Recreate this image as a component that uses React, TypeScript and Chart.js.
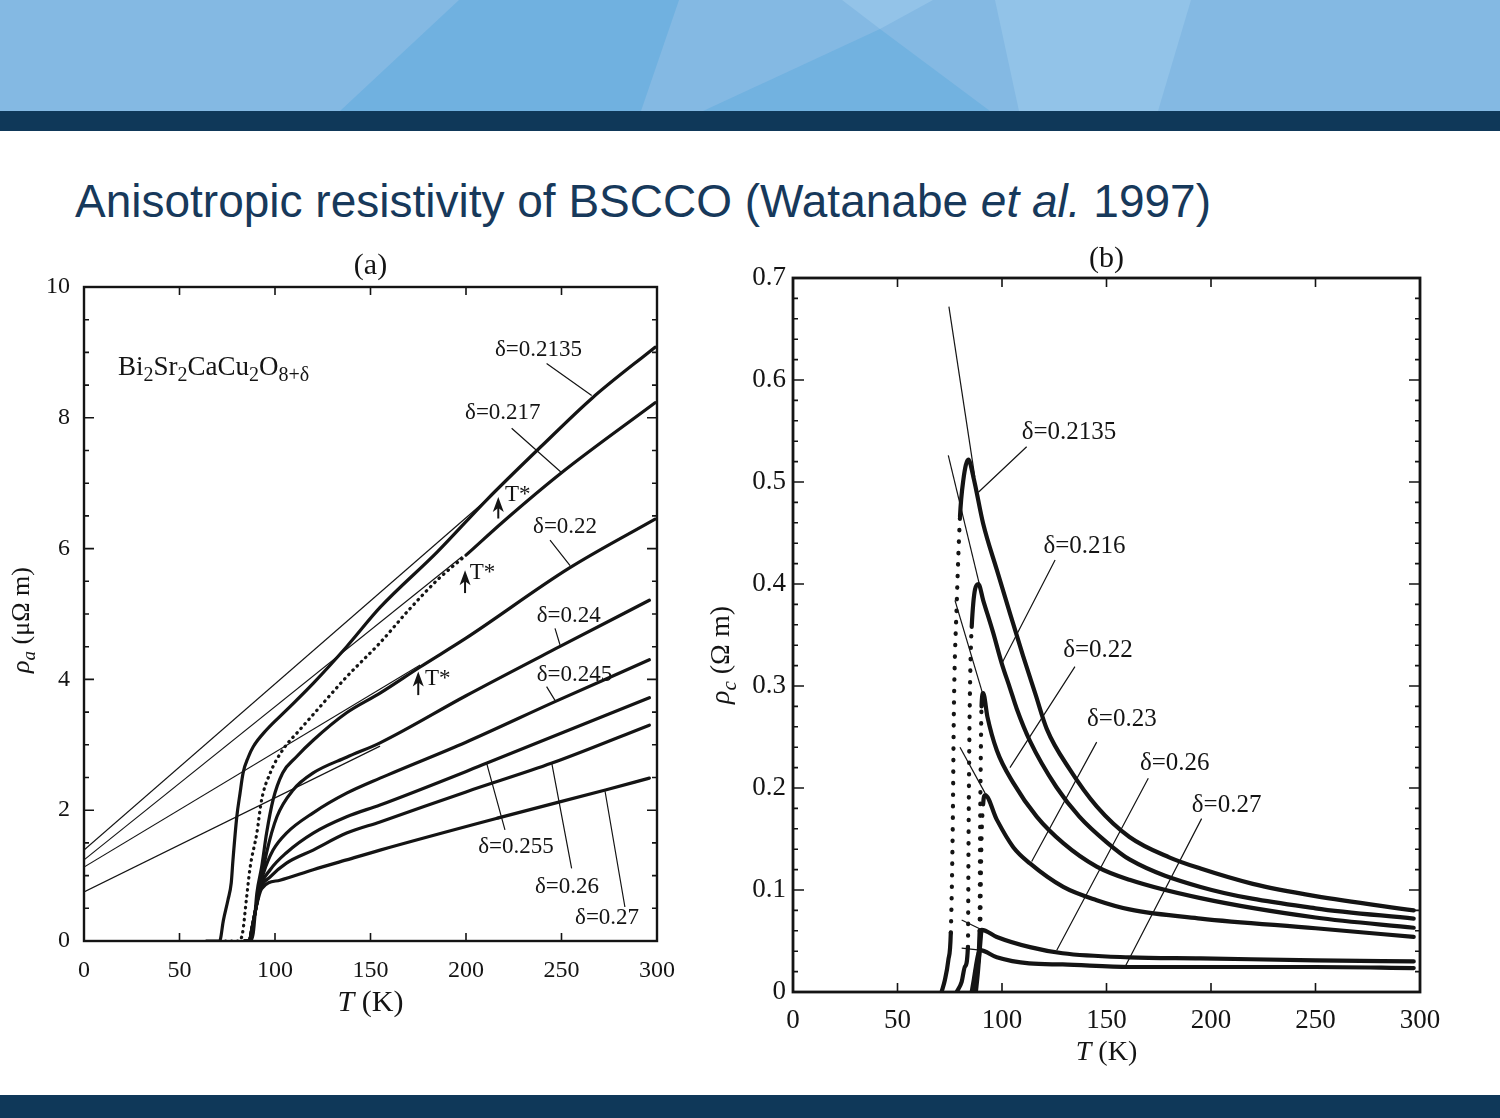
import React, { useEffect, useRef } from "react";
import { Chart, registerables } from "chart.js";

Chart.register(...registerables);

const SERIF = '"Liberation Serif", "Times New Roman", "DejaVu Serif", serif';
const INK = "#141414";

// ---------------- Panel (a): rho_a (μΩ m) vs T (K) ----------------
const T_A_2135 = [64, 71, 73, 75.4, 77.1, 78, 80, 81.7, 83.3, 86, 88.6, 95.6, 106, 120, 137.5, 155, 185, 211, 240, 266, 299];
const R_A_2135 = [0, 0, 0.32, 0.63, 0.89, 1.24, 1.9, 2.26, 2.57, 2.81, 2.97, 3.23, 3.53, 3.94, 4.5, 5.1, 5.95, 6.75, 7.58, 8.3, 9.08];
const T_A_217 = [74, 81, 83, 85, 87, 90.5, 93, 97.5, 104, 113, 123.5, 137.5, 155, 170, 185, 200, 219, 250, 299];
const R_A_217 = [0, 0, 0.12, 0.63, 1.13, 1.65, 2.16, 2.57, 2.92, 3.23, 3.58, 4.04, 4.56, 5.06, 5.52, 5.9, 6.4, 7.16, 8.23];
const T_A_22 = [84, 86.5, 88.6, 90.5, 93, 95.6, 99, 104, 111, 120, 137.5, 155, 176, 200, 254, 299];
const R_A_22 = [0, 0, 0.12, 0.73, 1.13, 1.65, 2.16, 2.57, 2.81, 3.07, 3.49, 3.79, 4.19, 4.63, 5.7, 6.45];
const T_A_24 = [84, 86.5, 88, 90, 92, 95.6, 101, 109.5, 120, 137.5, 155, 200, 249, 296];
const R_A_24 = [0, 0, 0.2, 0.5, 0.8, 1.35, 1.9, 2.31, 2.57, 2.81, 3.03, 3.75, 4.5, 5.21];
const T_A_245 = [84, 86.5, 88, 90, 92, 94, 99, 106, 120, 137.5, 155, 200, 246.6, 296];
const R_A_245 = [0, 0, 0.2, 0.5, 0.82, 1.04, 1.39, 1.65, 1.96, 2.26, 2.49, 3.04, 3.66, 4.3];
const T_A_255 = [84, 86.5, 88, 90, 92, 97.5, 106, 120, 137.5, 155, 211, 296];
const R_A_255 = [0, 0, 0.2, 0.5, 0.8, 1.09, 1.35, 1.65, 1.9, 2.08, 2.72, 3.72];
const T_A_26 = [84, 86.5, 88, 90, 92, 97.5, 106, 120, 137.5, 155, 200, 245, 296];
const R_A_26 = [0, 0, 0.2, 0.5, 0.78, 0.98, 1.19, 1.39, 1.65, 1.82, 2.28, 2.72, 3.3];
const T_A_27 = [84, 86.5, 88, 90, 93, 102.6, 120, 137.5, 155, 218, 273, 296];
const R_A_27 = [0, 0, 0.2, 0.5, 0.8, 0.93, 1.09, 1.24, 1.39, 1.89, 2.31, 2.49];
// linear high-temperature fits (thin lines)
const T_FIT_A1 = [0, 211];
const R_FIT_A1 = [1.39, 6.75];
const T_FIT_A2 = [0, 198];
const R_FIT_A2 = [1.24, 5.88];
const T_FIT_A3 = [0, 176];
const R_FIT_A3 = [1.13, 4.22];
const T_FIT_A4 = [0, 155];
const R_FIT_A4 = [0.75, 2.98];

// ---------------- Panel (b): rho_c (Ω m) vs T (K) ----------------
const T_B_2135 = [71.1, 72.7, 74.3, 75.5, 76.4, 77, 78.3, 79.9, 81.5, 83.9, 86.3, 91, 97.5, 104, 110, 116, 121.4, 132.5, 145.3, 161, 180, 195, 220, 250, 297];
const R_B_2135 = [0, 0.012, 0.031, 0.058, 0.156, 0.28, 0.378, 0.466, 0.502, 0.522, 0.505, 0.459, 0.414, 0.37, 0.33, 0.292, 0.258, 0.218, 0.182, 0.152, 0.132, 0.121, 0.106, 0.094, 0.08];
const T_B_216 = [78.3, 80.7, 82.3, 83.7, 84.0, 84.5, 85.5, 88.7, 91, 95.8, 99.9, 103.8, 107, 113.4, 126, 137, 150, 161, 195, 250, 297];
const R_B_216 = [0, 0.01, 0.025, 0.044, 0.15, 0.27, 0.358, 0.4, 0.384, 0.352, 0.322, 0.298, 0.278, 0.246, 0.201, 0.172, 0.147, 0.13, 0.103, 0.082, 0.072];
const T_B_22 = [86.3, 87.9, 89.3, 89.5, 89.8, 90.2, 91, 93, 97.5, 105.4, 116.6, 129.3, 145.3, 161, 195, 250, 297];
const R_B_22 = [0, 0.025, 0.06, 0.15, 0.22, 0.28, 0.293, 0.27, 0.237, 0.205, 0.172, 0.146, 0.123, 0.11, 0.092, 0.073, 0.063];
const T_B_23 = [86.8, 88.2, 89.6, 89.8, 90.2, 91.0, 91.9, 97.5, 105.4, 113.4, 129.3, 145.3, 161, 195, 250, 297];
const R_B_23 = [0, 0.025, 0.06, 0.1, 0.15, 0.185, 0.193, 0.169, 0.142, 0.126, 0.103, 0.09, 0.081, 0.072, 0.0625, 0.054];
const T_B_26 = [87.5, 88.5, 89.5, 90.3, 97.5, 113.4, 129, 161, 195, 250, 297];
const R_B_26 = [0, 0.02, 0.045, 0.061, 0.054, 0.044, 0.038, 0.034, 0.033, 0.031, 0.03];
const T_B_27 = [85.5, 86.5, 87.5, 88.5, 89.5, 97.5, 113, 129, 161, 195, 250, 297];
const R_B_27 = [0, 0.012, 0.025, 0.036, 0.041, 0.034, 0.028, 0.027, 0.0245, 0.0245, 0.0245, 0.0235];
// normal-state extrapolations (thin lines)
const T_FIT_B1 = [74.6, 87];
const R_FIT_B1 = [0.672, 0.505];
const T_FIT_B2 = [74.3, 89.5];
const R_FIT_B2 = [0.526, 0.397];
const T_FIT_B3 = [77.5, 91.1];
const R_FIT_B3 = [0.384, 0.29];
const T_FIT_B4 = [79.9, 91.9];
const R_FIT_B4 = [0.24, 0.195];
const T_FIT_B5 = [80.7, 90.3];
const R_FIT_B5 = [0.0706, 0.061];
const T_FIT_B6 = [80.7, 89.5];
const R_FIT_B6 = [0.043, 0.041];

// ---------------- labels ----------------
const LABELS_A = [
  { text: "δ=0.2135", at: [215.2, 9.04], from: [242.2, 8.83], to: [265.8, 8.34] },
  { text: "δ=0.217", at: [199.5, 8.07], from: [223.9, 7.84], to: [250.1, 7.16] },
  { text: "δ=0.22", at: [235.1, 6.33], from: [244, 6.13], to: [254.5, 5.74] },
  { text: "δ=0.24", at: [237, 4.97], from: [246.6, 4.78], to: [249.2, 4.53] },
  { text: "δ=0.245", at: [237, 4.07], from: [242.2, 3.89], to: [246.6, 3.68] },
  { text: "δ=0.255", at: [206.4, 1.44], from: [220.4, 1.7], to: [210.8, 2.72] },
  { text: "δ=0.26", at: [236.1, 0.83], from: [255.3, 1.11], to: [244.9, 2.72] },
  { text: "δ=0.27", at: [257.1, 0.35], from: [283.2, 0.52], to: [272.8, 2.29] },
];
const TSTAR_A = [
  { x: 216.9, base: 6.46, tip: 6.79, label: [220.4, 6.82] },
  { x: 199.5, base: 5.32, tip: 5.67, label: [202, 5.63] },
  { x: 175, base: 3.76, tip: 4.12, label: [178.5, 4.01] },
];
const LABELS_B = [
  { text: "δ=0.2135", at: [109.4, 0.5485], from: [111.8, 0.5346], to: [88.7, 0.49] },
  { text: "δ=0.216", at: [119.8, 0.437], from: [125.4, 0.4235], to: [99.9, 0.322] },
  { text: "δ=0.22", at: [129.3, 0.335], from: [134.9, 0.319], to: [103.8, 0.22] },
  { text: "δ=0.23", at: [140.7, 0.267], from: [145.3, 0.245], to: [114.2, 0.128] },
  { text: "δ=0.26", at: [166, 0.2245], from: [170, 0.2095], to: [126.2, 0.041] },
  { text: "δ=0.27", at: [190.8, 0.183], from: [195.5, 0.17], to: [158.9, 0.0248] },
];

type Part = { t: string; it?: boolean; sub?: boolean };
const FORMULA: Part[] = [
  { t: "Bi" }, { t: "2", sub: true }, { t: "Sr" }, { t: "2", sub: true }, { t: "CaCu" },
  { t: "2", sub: true }, { t: "O" }, { t: "8+δ", sub: true },
];

function pts(T: number[], R: number[]) {
  return T.map((t, i) => ({ x: t, y: R[i] }));
}

function fontOf(p: Part, size: number) {
  const s = p.sub ? Math.round(size * 0.74) : size;
  return `${p.it ? "italic " : ""}${s}px ${SERIF}`;
}

function drawParts(ctx: CanvasRenderingContext2D, parts: Part[], x: number, y: number, size: number, align: "left" | "center") {
  ctx.textBaseline = "middle";
  ctx.textAlign = "left";
  const widths = parts.map((p) => {
    ctx.font = fontOf(p, size);
    return ctx.measureText(p.t).width;
  });
  const total = widths.reduce((a, b) => a + b, 0);
  let cx = align === "center" ? x - total / 2 : x;
  parts.forEach((p, i) => {
    ctx.font = fontOf(p, size);
    ctx.fillText(p.t, cx, y + (p.sub ? size * 0.3 : 0));
    cx += widths[i];
  });
}

type PanelCfg = {
  yMax: number;
  yStep: number;
  isMajorY: (v: number) => boolean;
  yLabel: (v: number) => string;
  tickSize: number;
  xPad: number;
  yPad: number;
  yW: number;
  xH: number;
  padTop: number;
  padRight: number;
  frameW: number;
  majorLen: number;
  minorLen: number;
  xTickLen: number;
  panel: string;
  panelDy: number;
  panelSize: number;
  xTitle: Part[];
  xTitleDy: number;
  xTitleSize: number;
  yTitle: Part[];
  yTitleDx: number;
  yTitleDy: number;
  yTitleSize: number;
  labelSize: number;
  labels: { text: string; at: number[]; from: number[]; to: number[] }[];
  tstars?: { x: number; base: number; tip: number; label: number[] }[];
  formula?: { parts: Part[]; at: number[]; size: number };
  datasets: any[];
};

function annotPlugin(cfg: PanelCfg) {
  return {
    id: "annot",
    afterDatasetsDraw(chart: any) {
      const ctx: CanvasRenderingContext2D = chart.ctx;
      const a = chart.chartArea;
      const xs = chart.scales.x;
      const ys = chart.scales.y;
      const X = (v: number) => xs.getPixelForValue(v);
      const Y = (v: number) => ys.getPixelForValue(v);
      ctx.save();
      ctx.strokeStyle = INK;
      ctx.fillStyle = INK;
      // frame
      ctx.lineWidth = cfg.frameW;
      ctx.strokeRect(a.left, a.top, a.right - a.left, a.bottom - a.top);
      // inward ticks on all four sides
      ctx.lineWidth = 1.6;
      ctx.beginPath();
      ys.ticks.forEach((t: any) => {
        const p = Y(t.value);
        const L = cfg.isMajorY(t.value) ? cfg.majorLen : cfg.minorLen;
        ctx.moveTo(a.left, p);
        ctx.lineTo(a.left + L, p);
        ctx.moveTo(a.right, p);
        ctx.lineTo(a.right - L, p);
      });
      xs.ticks.forEach((t: any) => {
        const p = X(t.value);
        ctx.moveTo(p, a.bottom);
        ctx.lineTo(p, a.bottom - cfg.xTickLen);
        ctx.moveTo(p, a.top);
        ctx.lineTo(p, a.top + cfg.xTickLen);
      });
      ctx.stroke();
      // leader lines
      ctx.lineWidth = 1.2;
      ctx.beginPath();
      cfg.labels.forEach((l) => {
        ctx.moveTo(X(l.from[0]), Y(l.from[1]));
        ctx.lineTo(X(l.to[0]), Y(l.to[1]));
      });
      ctx.stroke();
      // labels
      ctx.font = `${cfg.labelSize}px ${SERIF}`;
      ctx.textAlign = "left";
      ctx.textBaseline = "middle";
      cfg.labels.forEach((l) => ctx.fillText(l.text, X(l.at[0]), Y(l.at[1])));
      // T* arrows
      (cfg.tstars || []).forEach((s) => {
        const x = X(s.x);
        const yb = Y(s.base);
        const yt = Y(s.tip);
        ctx.lineWidth = 2;
        ctx.beginPath();
        ctx.moveTo(x, yb);
        ctx.lineTo(x, yt + 8);
        ctx.stroke();
        ctx.beginPath();
        ctx.moveTo(x, yt);
        ctx.lineTo(x - 5.5, yt + 15);
        ctx.lineTo(x, yt + 11);
        ctx.lineTo(x + 5.5, yt + 15);
        ctx.closePath();
        ctx.fill();
        ctx.font = `23px ${SERIF}`;
        ctx.textAlign = "left";
        ctx.textBaseline = "middle";
        ctx.fillText("T*", X(s.label[0]), Y(s.label[1]));
      });
      if (cfg.formula) {
        drawParts(ctx, cfg.formula.parts, X(cfg.formula.at[0]), Y(cfg.formula.at[1]), cfg.formula.size, "left");
      }
      // panel title, axis titles
      ctx.font = `${cfg.panelSize}px ${SERIF}`;
      ctx.textAlign = "center";
      ctx.textBaseline = "middle";
      ctx.fillText(cfg.panel, (a.left + a.right) / 2, a.top + cfg.panelDy);
      drawParts(ctx, cfg.xTitle, (a.left + a.right) / 2, a.bottom + cfg.xTitleDy, cfg.xTitleSize, "center");
      ctx.save();
      ctx.translate(a.left + cfg.yTitleDx, (a.top + a.bottom) / 2 + cfg.yTitleDy);
      ctx.rotate(-Math.PI / 2);
      drawParts(ctx, cfg.yTitle, 0, 0, cfg.yTitleSize, "center");
      ctx.restore();
      ctx.restore();
    },
  };
}

function curve(T: number[], R: number[], width: number, dotted?: [number, number], dash?: number[]) {
  const ds: any = {
    data: pts(T, R),
    showLine: true,
    borderColor: INK,
    borderWidth: width,
    pointRadius: 0,
    fill: false,
    cubicInterpolationMode: "monotone",
    borderCapStyle: "round",
    borderJoinStyle: "round",
  };
  if (dotted) {
    ds.segment = {
      borderDash: (c: any) =>
        c.p0.parsed.x >= dotted[0] - 1e-9 && c.p1.parsed.x <= dotted[1] + 1e-9 ? dash : undefined,
    };
  }
  return ds;
}

function thin(T: number[], R: number[]) {
  return {
    data: pts(T, R),
    showLine: true,
    borderColor: INK,
    borderWidth: 1.2,
    pointRadius: 0,
    fill: false,
  };
}

const isMajorA = (v: number) => Math.abs(v / 2 - Math.round(v / 2)) < 1e-6;
const isMajorB = (v: number) => Math.abs(v * 10 - Math.round(v * 10)) < 1e-6;

const CFG_A: PanelCfg = {
  yMax: 10,
  yStep: 0.5,
  isMajorY: isMajorA,
  yLabel: (v) => (isMajorA(v) ? String(Math.round(v)) : ""),
  tickSize: 24,
  xPad: 15,
  yPad: 14,
  yW: 84,
  xH: 99,
  padTop: 57,
  padRight: 43,
  frameW: 2.4,
  majorLen: 10,
  minorLen: 5,
  xTickLen: 8,
  panel: "(a)",
  panelDy: -21,
  panelSize: 30,
  xTitle: [{ t: "T", it: true }, { t: " (K)" }],
  xTitleDy: 62,
  xTitleSize: 30,
  yTitle: [{ t: "ρ", it: true }, { t: "a", it: true, sub: true }, { t: " (μΩ m)" }],
  yTitleDx: -62,
  yTitleDy: 6,
  yTitleSize: 26,
  labelSize: 23,
  labels: LABELS_A,
  tstars: TSTAR_A,
  formula: { parts: FORMULA, at: [17.8, 8.76], size: 27 },
  datasets: [
    thin(T_FIT_A1, R_FIT_A1),
    thin(T_FIT_A2, R_FIT_A2),
    thin(T_FIT_A3, R_FIT_A3),
    thin(T_FIT_A4, R_FIT_A4),
    curve(T_A_2135, R_A_2135, 3.2),
    curve(T_A_217, R_A_217, 3.2, [0, 212], [0.5, 5.5]),
    curve(T_A_22, R_A_22, 3.2),
    curve(T_A_24, R_A_24, 3.2),
    curve(T_A_245, R_A_245, 3.2),
    curve(T_A_255, R_A_255, 3.2),
    curve(T_A_26, R_A_26, 3.2),
    curve(T_A_27, R_A_27, 3.2),
  ],
};

const DOT_B = [0.5, 11];
const CFG_B: PanelCfg = {
  yMax: 0.7,
  yStep: 0.02,
  isMajorY: isMajorB,
  yLabel: (v) => {
    if (!isMajorB(v)) return "";
    const k = Math.round(v * 10);
    return k === 0 ? "0" : (k / 10).toFixed(1);
  },
  tickSize: 27,
  xPad: 13,
  yPad: 7,
  yW: 93,
  xH: 78,
  padTop: 58,
  padRight: 60,
  frameW: 2.8,
  majorLen: 11,
  minorLen: 5,
  xTickLen: 9,
  panel: "(b)",
  panelDy: -19,
  panelSize: 30,
  xTitle: [{ t: "T", it: true }, { t: " (K)" }],
  xTitleDy: 61,
  xTitleSize: 28,
  yTitle: [{ t: "ρ", it: true }, { t: "c", it: true, sub: true }, { t: " (Ω m)" }],
  yTitleDx: -71,
  yTitleDy: 20,
  yTitleSize: 28,
  labelSize: 25,
  labels: LABELS_B,
  datasets: [
    thin(T_FIT_B1, R_FIT_B1),
    thin(T_FIT_B2, R_FIT_B2),
    thin(T_FIT_B3, R_FIT_B3),
    thin(T_FIT_B4, R_FIT_B4),
    thin(T_FIT_B5, R_FIT_B5),
    thin(T_FIT_B6, R_FIT_B6),
    curve(T_B_2135, R_B_2135, 4.2, [75.5, 79.9], DOT_B),
    curve(T_B_216, R_B_216, 4.2, [83.7, 85.5], DOT_B),
    curve(T_B_22, R_B_22, 4.2, [89.3, 90.2], DOT_B),
    curve(T_B_23, R_B_23, 4.2, [89.6, 91.0], DOT_B),
    curve(T_B_26, R_B_26, 4.2),
    curve(T_B_27, R_B_27, 4.2),
  ],
};

function buildConfig(cfg: PanelCfg): any {
  const tickFont = { family: SERIF, size: cfg.tickSize };
  return {
    type: "scatter",
    data: { datasets: cfg.datasets },
    options: {
      responsive: false,
      animation: false,
      events: [],
      layout: { padding: { left: 0, top: cfg.padTop, right: cfg.padRight, bottom: 0 } },
      plugins: { legend: { display: false }, tooltip: { enabled: false }, title: { display: false } },
      scales: {
        x: {
          type: "linear",
          position: "bottom",
          min: 0,
          max: 300,
          ticks: { stepSize: 50, autoSkip: false, maxRotation: 0, font: tickFont, color: INK, padding: cfg.xPad },
          grid: { display: false, drawTicks: false },
          border: { display: false },
          afterFit: (s: any) => {
            s.height = cfg.xH;
          },
        },
        y: {
          type: "linear",
          position: "left",
          min: 0,
          max: cfg.yMax,
          ticks: {
            stepSize: cfg.yStep,
            autoSkip: false,
            font: tickFont,
            color: INK,
            padding: cfg.yPad,
            callback: (v: any) => cfg.yLabel(Number(v)),
          },
          grid: { display: false, drawTicks: false },
          border: { display: false },
          afterFit: (s: any) => {
            s.width = cfg.yW;
          },
        },
      },
    },
    plugins: [annotPlugin(cfg)],
  };
}

function PanelChart({ cfg, left, top, width, height }: { cfg: PanelCfg; left: number; top: number; width: number; height: number }) {
  const ref = useRef<HTMLCanvasElement>(null);
  useEffect(() => {
    const chart = new Chart(ref.current as HTMLCanvasElement, buildConfig(cfg));
    return () => chart.destroy();
  }, [cfg]);
  return (
    <canvas
      ref={ref}
      width={width}
      height={height}
      style={{ position: "absolute", left, top, width, height }}
    />
  );
}

export default function App() {
  return (
    <div style={{ position: "absolute", left: 0, top: 0, width: 1500, height: 1118, background: "#fff", overflow: "hidden" }}>
      <svg width={1500} height={131} style={{ position: "absolute", left: 0, top: 0 }}>
        <rect x={0} y={0} width={1500} height={111} fill="#84b9e3" />
        <polygon points="459,0 679,0 641,111 340,111" fill="#70b1e0" />
        <polygon points="842,0 933,0 880,29" fill="#93c3e8" />
        <polygon points="880,29 990,111 703,111" fill="#72b2e0" />
        <polygon points="995,0 1191,0 1158,111 1019,111" fill="#92c3e8" />
        <rect x={0} y={111} width={1500} height={20} fill="#0f3859" />
      </svg>
      <div
        style={{
          position: "absolute",
          left: 75,
          top: 178,
          fontFamily: '"Liberation Sans", Arial, sans-serif',
          fontSize: 46,
          lineHeight: "46px",
          color: "#17395b",
          whiteSpace: "nowrap",
        }}
      >
        Anisotropic resistivity of BSCCO (Watanabe <i>et al.</i> 1997)
      </div>
      <PanelChart cfg={CFG_A} left={0} top={230} width={700} height={810} />
      <PanelChart cfg={CFG_B} left={700} top={220} width={780} height={850} />
      <div style={{ position: "absolute", left: 0, top: 1095, width: 1500, height: 23, background: "#0f3859" }} />
    </div>
  );
}
